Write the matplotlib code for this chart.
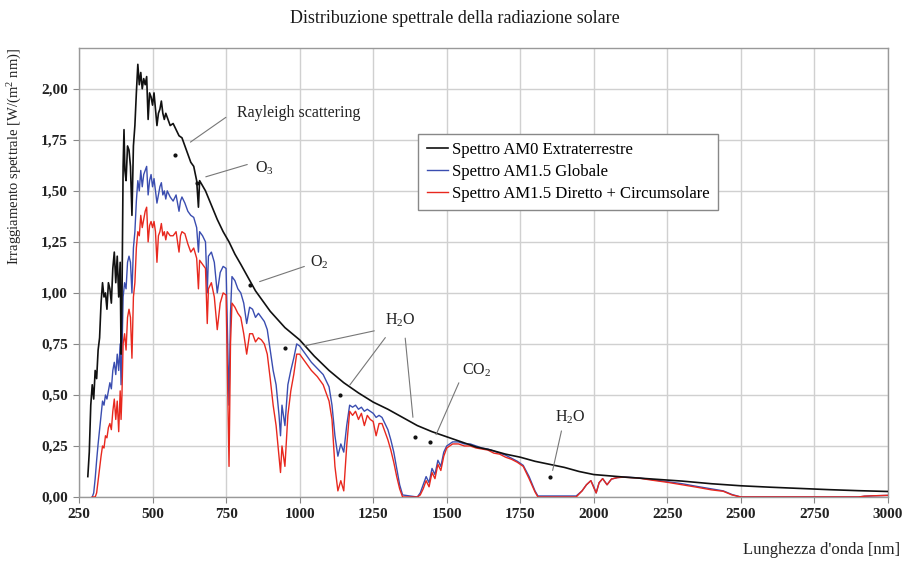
"""
Distribuzione spettrale della radiazione solare (AM0, AM1.5G, AM1.5D)
"""
import matplotlib
matplotlib.use("Agg")
import matplotlib.pyplot as plt

plt.rcParams['font.family'] = ['Liberation Serif', 'DejaVu Serif']
plt.rcParams['mathtext.default'] = 'regular'

# Spettro AM0
wl_am0 = [280, 285, 290, 295, 300, 305, 310, 315, 320, 325, 330, 335, 340, 345, 350,
          355, 360, 365, 370, 375, 380, 385, 390, 393, 396, 400, 403, 406, 410, 415,
          420, 425, 430, 435, 440, 445, 450, 455, 460, 465, 470, 475, 480, 485, 490,
          495, 500, 505, 510, 515, 520, 525, 530, 535, 540, 545, 550, 560, 570, 580,
          590, 600, 610, 620, 630, 640, 650, 656, 660, 680, 700, 720, 740, 760, 780,
          800, 850, 900, 950, 1000, 1050, 1100, 1150, 1200, 1250, 1300, 1350, 1400,
          1450, 1500, 1550, 1600, 1650, 1700, 1750, 1800, 1850, 1900, 1950, 2000,
          2100, 2200, 2300, 2400, 2500, 2600, 2700, 2800, 2900, 3000]
am0 = [0.10, 0.22, 0.45, 0.55, 0.48, 0.62, 0.58, 0.72, 0.78, 0.95, 1.05, 0.98, 1.00, 0.92, 1.05,
       1.02, 0.95, 1.12, 1.20, 1.05, 1.18, 0.98, 1.15, 0.70, 0.95, 1.62, 1.80, 1.60, 1.55, 1.72,
       1.70, 1.62, 1.38, 1.72, 1.82, 1.98, 2.12, 2.02, 2.08, 2.00, 2.05, 2.02, 2.06, 1.85, 1.98,
       1.96, 1.92, 1.98, 1.90, 1.82, 1.88, 1.90, 1.94, 1.88, 1.85, 1.88, 1.86, 1.82, 1.83, 1.80,
       1.77, 1.76, 1.72, 1.68, 1.64, 1.62, 1.55, 1.42, 1.55, 1.50, 1.43, 1.36, 1.30, 1.25, 1.19,
       1.14, 1.01, 0.91, 0.83, 0.77, 0.69, 0.62, 0.56, 0.51, 0.465, 0.43, 0.39, 0.35,
       0.32, 0.295, 0.27, 0.245, 0.23, 0.21, 0.195, 0.175, 0.16, 0.145, 0.125, 0.11,
       0.098, 0.088, 0.078, 0.065, 0.055, 0.048, 0.042, 0.036, 0.031, 0.027]

# Spettri AM1.5 Globale / Diretto + Circumsolare
wl_am15 = [295, 300, 305, 310, 315, 320, 325, 330, 335, 340, 345, 350, 355, 360, 365,
           370, 375, 380, 385, 390, 393, 396, 400, 405, 410, 415, 420, 425, 430, 435,
           440, 445, 450, 455, 460, 465, 470, 475, 480, 485, 490, 495, 500, 505, 510,
           515, 520, 525, 530, 535, 540, 545, 550, 560, 570, 580, 590, 595, 600, 610,
           620, 630, 640, 650, 656, 660, 670, 680, 686, 690, 700, 710, 720, 730, 740,
           750, 760, 765, 770, 780, 790, 800, 810, 820, 830, 840, 850, 860, 870, 880,
           890, 900, 910, 920, 930, 935, 940, 950, 960, 970, 980, 990, 1000, 1020, 1040,
           1060, 1080, 1100, 1110, 1120, 1130, 1140, 1150, 1160, 1170, 1180, 1190, 1200, 1210, 1220,
           1230, 1240, 1250, 1260, 1270, 1280, 1290, 1300, 1310, 1320, 1330, 1340, 1350, 1400, 1410,
           1420, 1430, 1440, 1450, 1460, 1470, 1480, 1490, 1500, 1520, 1540, 1560, 1580, 1600, 1620,
           1640, 1660, 1680, 1700, 1720, 1740, 1760, 1780, 1800, 1810, 1940, 1960, 1975, 1990, 2000,
           2008, 2018, 2030, 2045, 2060, 2080, 2100, 2150, 2200, 2250, 2300, 2350, 2400, 2440, 2470,
           2500, 2900, 2920, 2950, 3000]
am15_glob = [0.00, 0.02, 0.09, 0.18, 0.26, 0.33, 0.40, 0.47, 0.45, 0.50, 0.48, 0.52, 0.56, 0.53, 0.62,
             0.66, 0.60, 0.70, 0.62, 0.75, 0.55, 0.70, 0.98, 1.05, 1.02, 1.15, 1.18, 1.15, 1.00, 1.22,
             1.30, 1.45, 1.55, 1.50, 1.60, 1.52, 1.58, 1.60, 1.62, 1.48, 1.55, 1.58, 1.52, 1.56, 1.50,
             1.44, 1.48, 1.52, 1.54, 1.48, 1.50, 1.46, 1.50, 1.47, 1.45, 1.48, 1.40, 1.45, 1.47, 1.44,
             1.40, 1.38, 1.37, 1.32, 1.20, 1.30, 1.28, 1.25, 1.00, 1.18, 1.20, 1.15, 1.00, 1.10, 1.13,
             1.12, 0.45, 0.90, 1.08, 1.06, 1.02, 1.00, 0.95, 0.85, 0.93, 0.92, 0.88, 0.90, 0.88, 0.86,
             0.82, 0.72, 0.62, 0.55, 0.40, 0.30, 0.45, 0.35, 0.55, 0.62, 0.68, 0.75, 0.74, 0.70, 0.66,
             0.63, 0.60, 0.54, 0.45, 0.30, 0.20, 0.26, 0.22, 0.35, 0.45, 0.44, 0.45, 0.43, 0.44, 0.42,
             0.43, 0.42, 0.41, 0.39, 0.40, 0.39, 0.36, 0.33, 0.28, 0.22, 0.14, 0.06, 0.01, 0.00, 0.02,
             0.06, 0.10, 0.07, 0.14, 0.11, 0.18, 0.15, 0.22, 0.25, 0.27, 0.27, 0.26, 0.26, 0.25, 0.24,
             0.235, 0.225, 0.215, 0.205, 0.19, 0.175, 0.155, 0.10, 0.03, 0.005, 0.005, 0.03, 0.06, 0.08, 0.05,
             0.02, 0.07, 0.09, 0.06, 0.088, 0.095, 0.098, 0.094, 0.085, 0.075, 0.065, 0.052, 0.04, 0.03, 0.012,
             0.00, 0.00, 0.004, 0.006, 0.008]
am15_dir = [0.00, 0.00, 0.00, 0.02, 0.08, 0.14, 0.20, 0.25, 0.24, 0.30, 0.29, 0.34, 0.36, 0.33, 0.42,
            0.48, 0.38, 0.47, 0.32, 0.52, 0.38, 0.50, 0.75, 0.80, 0.72, 0.88, 0.92, 0.88, 0.68, 0.98,
            1.05, 1.22, 1.30, 1.28, 1.38, 1.32, 1.36, 1.40, 1.42, 1.25, 1.33, 1.35, 1.32, 1.35, 1.30,
            1.15, 1.28, 1.30, 1.34, 1.28, 1.30, 1.26, 1.30, 1.28, 1.28, 1.30, 1.20, 1.28, 1.30, 1.29,
            1.24, 1.20, 1.22, 1.17, 1.02, 1.16, 1.14, 1.12, 0.85, 1.02, 1.05, 0.98, 0.82, 0.95, 1.00,
            0.99, 0.15, 0.75, 0.95, 0.93, 0.90, 0.88, 0.80, 0.70, 0.80, 0.80, 0.76, 0.78, 0.77, 0.75,
            0.70, 0.58, 0.45, 0.35, 0.20, 0.12, 0.25, 0.15, 0.40, 0.52, 0.60, 0.70, 0.70, 0.66, 0.62,
            0.59, 0.55, 0.47, 0.38, 0.15, 0.03, 0.08, 0.03, 0.25, 0.42, 0.40, 0.42, 0.38, 0.41, 0.35,
            0.40, 0.38, 0.37, 0.30, 0.36, 0.36, 0.32, 0.28, 0.23, 0.17, 0.10, 0.04, 0.00, 0.00, 0.01,
            0.04, 0.08, 0.05, 0.12, 0.09, 0.16, 0.13, 0.20, 0.24, 0.26, 0.26, 0.25, 0.25, 0.24, 0.235,
            0.23, 0.215, 0.21, 0.195, 0.185, 0.17, 0.15, 0.09, 0.025, 0.00, 0.00, 0.03, 0.06, 0.08, 0.045,
            0.02, 0.07, 0.09, 0.06, 0.088, 0.095, 0.097, 0.093, 0.082, 0.072, 0.06, 0.048, 0.035, 0.028, 0.01,
            0.00, 0.00, 0.004, 0.006, 0.008]

x_ticks = [250, 500, 750, 1000, 1250, 1500, 1750, 2000, 2250, 2500, 2750, 3000]
y_ticks = [0.0, 0.25, 0.5, 0.75, 1.0, 1.25, 1.5, 1.75, 2.0]
y_ticklabels = ['0,00', '0,25', '0,50', '0,75', '1,00', '1,25', '1,50', '1,75', '2,00']

# Etichette degli assorbimenti: testo, posizione testo, inizio linea, fine linea, punto
labels = [
    ('Rayleigh scattering', (787, 1.88), [((757, 1.868), (621, 1.731))], [(576, 1.677)]),
    ('O$_3$', (848, 1.61), [((831, 1.633), (672, 1.565))], [(651, 1.54)]),
    ('O$_2$', (1035, 1.15), [((1025, 1.134), (855, 1.051))], [(831, 1.037)]),
    ('H$_2$O', (1290, 0.866), [((1263, 0.817), (1008, 0.738)),
                                ((1297, 0.792), (1165, 0.538)),
                                ((1358, 0.792), (1386, 0.377))],
     [(950, 0.729), (1137, 0.499), (1392, 0.293)]),
    ('CO$_2$', (1552, 0.621), [((1545, 0.572), (1460, 0.293))], [(1443, 0.269)]),
    ('H$_2$O', (1868, 0.391), [((1892, 0.337), (1858, 0.117))], [(1851, 0.098)]),
]

fig = plt.figure(figsize=(9.09, 5.66), dpi=100)
ax = fig.add_axes([0.0869, 0.1219, 0.8900, 0.7933])

ax.plot(wl_am15, am15_glob, color='#3a4db0', lw=1.0, zorder=3, label='Spettro AM1.5 Globale')
ax.plot(wl_am15, am15_dir, color='#e8281e', lw=1.0, zorder=4, label='Spettro AM1.5 Diretto + Circumsolare')
ax.plot(wl_am0, am0, color='#111111', lw=1.2, zorder=5, label='Spettro AM0 Extraterrestre')

for text, pos, lines, dots in labels:
    ax.text(pos[0], pos[1], text, fontsize=11.5, ha='left', va='center', color='#222222', zorder=7)
    for start, end in lines:
        ax.annotate('', xy=end, xytext=start,
                    arrowprops=dict(arrowstyle='-', color='#777777', lw=0.8), zorder=6)
    for d in dots:
        ax.plot(d[0], d[1], marker='o', ms=2, color='#111111', zorder=6)

ax.set_xlim(250, 3000)
ax.set_ylim(0, 2.2)
ax.set_xticks(x_ticks)
ax.set_xticklabels([str(t) for t in x_ticks], fontsize=11, fontweight='bold')
ax.set_yticks(y_ticks)
ax.set_yticklabels(y_ticklabels, fontsize=11, fontweight='bold')
ax.tick_params(direction='out', length=4, width=0.8, color='#888888', labelcolor='#222222', pad=4)
ax.grid(True, color='#d0d0d0', lw=1.0, zorder=0)
ax.set_axisbelow(True)
for s in ax.spines.values():
    s.set_color('#999999')
    s.set_linewidth(1.0)

handles, lbls = ax.get_legend_handles_labels()
order = [2, 0, 1]
leg = ax.legend([handles[i] for i in order], [lbls[i] for i in order],
                loc='upper left', bbox_to_anchor=(0.409, 0.828), fontsize=12,
                fancybox=False, framealpha=1, edgecolor='#888888',
                handlelength=1.3, handletextpad=0.2, labelspacing=0.35, borderpad=0.5)
leg.get_frame().set_linewidth(1.0)
leg.set_zorder(8)

fig.text(0.5006, 0.968, 'Distribuzione spettrale della radiazione solare',
         ha='center', va='center', fontsize=13, color='#1a1a1a')
fig.text(15 / 909, 1 - 48 / 566, 'Irraggiamento spettrale [W/(m$^2$ nm)]',
         rotation=90, ha='center', va='top', fontsize=10.5, color='#222222')
fig.text(900 / 909, 1 - 550 / 566, "Lunghezza d'onda [nm]",
         ha='right', va='center', fontsize=12, color='#222222')

fig.savefig('out.png', dpi=100)
